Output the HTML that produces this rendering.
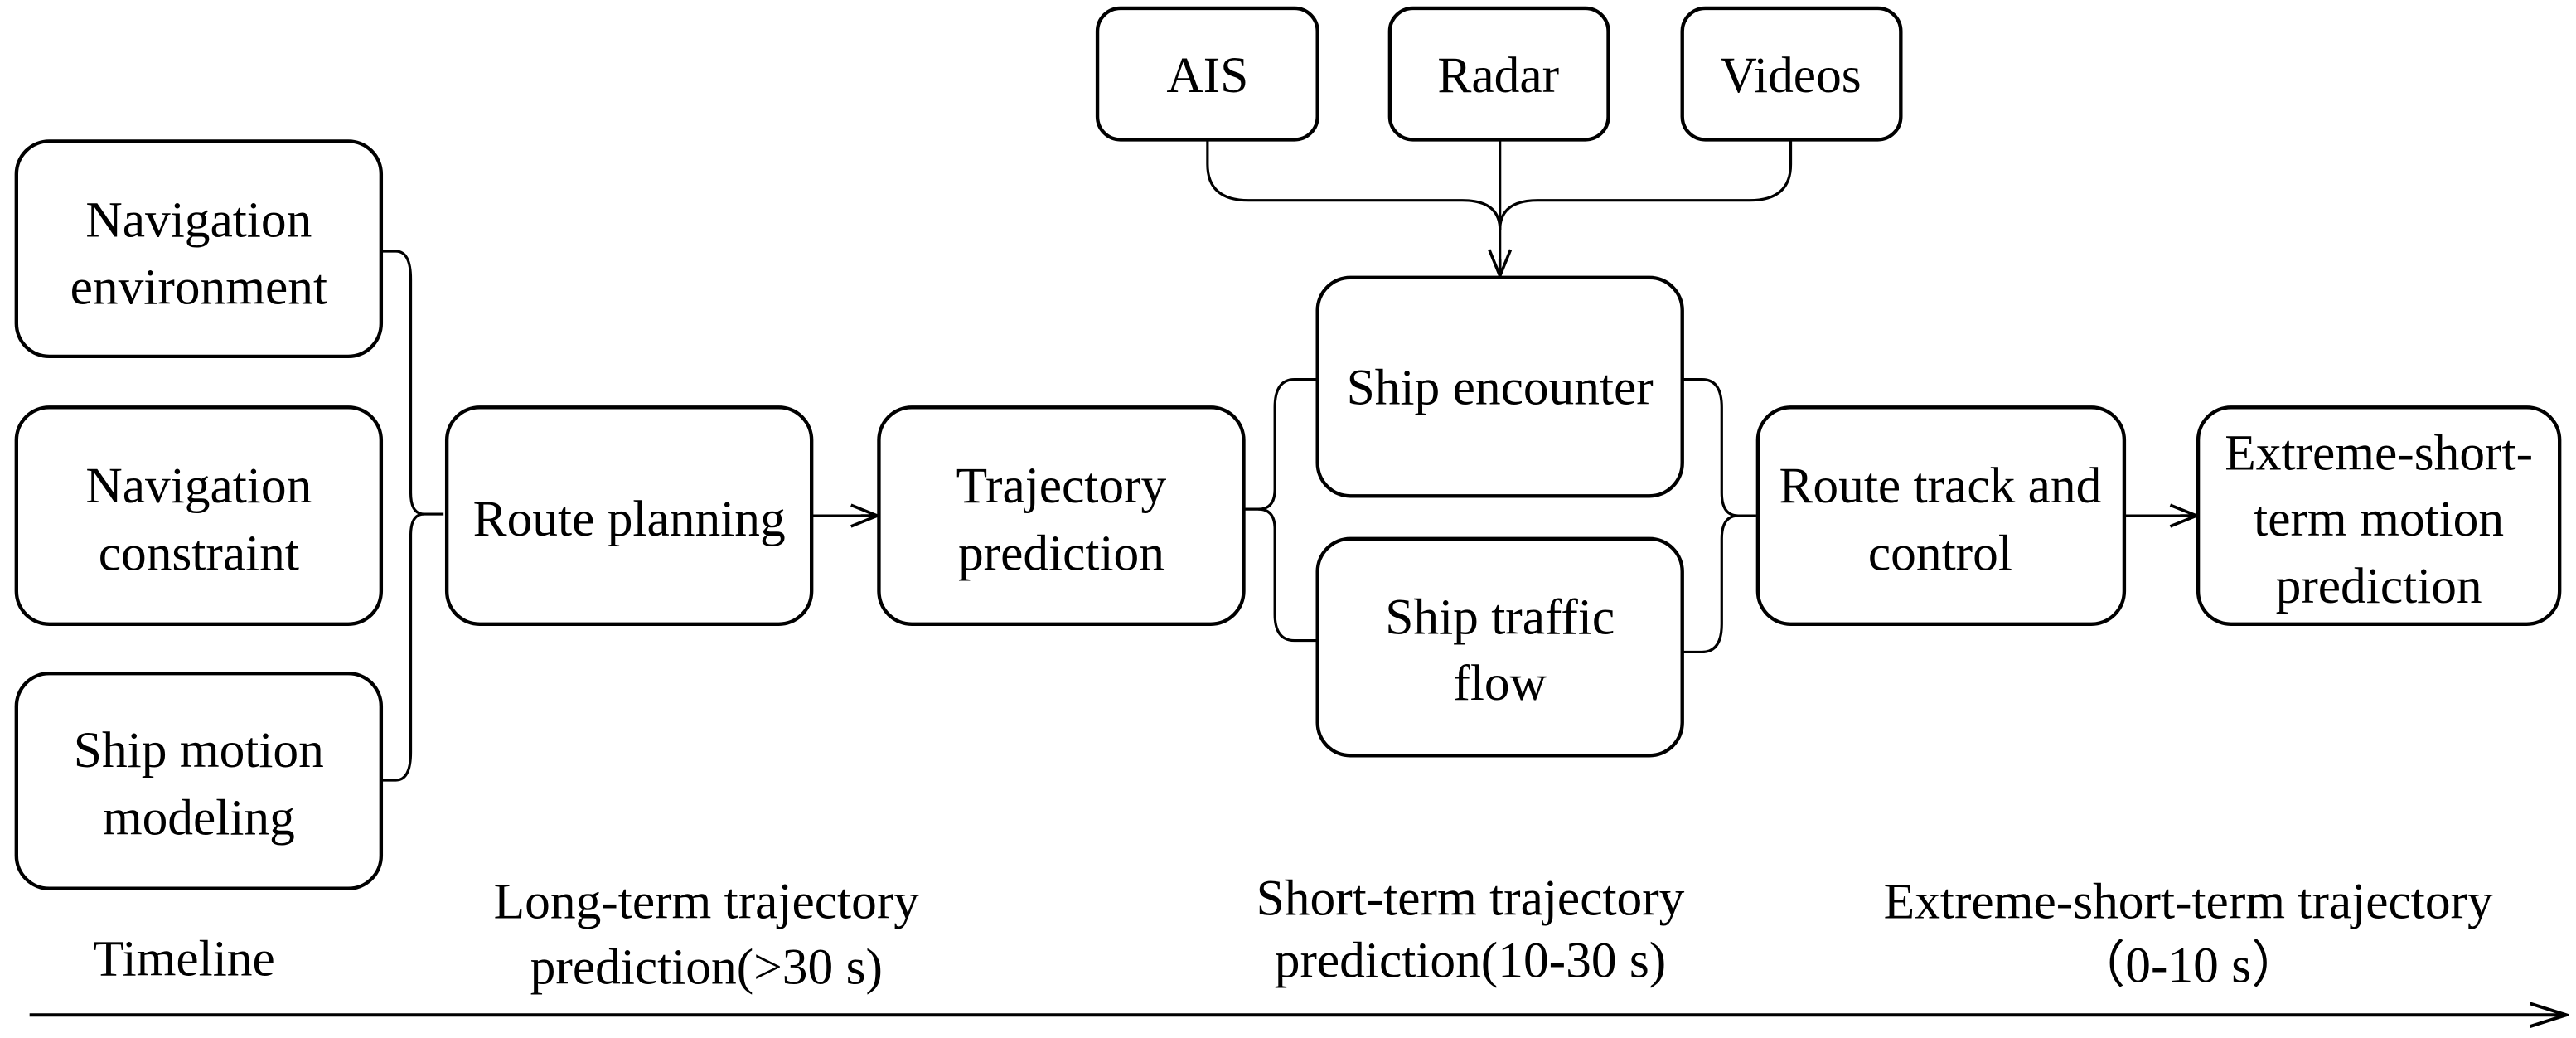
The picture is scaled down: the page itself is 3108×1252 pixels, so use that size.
<!DOCTYPE html>
<html><head><meta charset="utf-8"><style>
html,body{margin:0;padding:0;background:#fff;}
svg{display:block;}
text{font-family:"Liberation Serif",serif;font-size:31px;fill:#000;text-anchor:middle;}
</style></head><body>
<svg width="3108" height="1252" viewBox="0 0 1568 632" preserveAspectRatio="none" xmlns="http://www.w3.org/2000/svg">
<defs>
<marker id="oa" markerWidth="20" markerHeight="16" refX="18" refY="8" orient="auto" markerUnits="userSpaceOnUse">
<path d="M2,1.5 L18,8 L2,14.5 M8,8 L18,8" fill="none" stroke="#000" stroke-width="1.8"/>
</marker>
<marker id="ob" markerWidth="26" markerHeight="18" refX="24" refY="9" orient="auto" markerUnits="userSpaceOnUse">
<path d="M2,2 L24,9 L2,16" fill="none" stroke="#000" stroke-width="2"/>
</marker>
</defs>
<g fill="#fff" stroke="#000" stroke-width="2.2">
<rect x="10" y="86" width="222" height="131" rx="20"/>
<rect x="10" y="248" width="222" height="132" rx="20"/>
<rect x="10" y="410" width="222" height="131" rx="20"/>
<rect x="272" y="248" width="222" height="132" rx="20"/>
<rect x="535" y="248" width="222" height="132" rx="20"/>
<rect x="802" y="169" width="222" height="133" rx="20"/>
<rect x="802" y="328" width="222" height="132" rx="20"/>
<rect x="1070" y="248" width="223" height="132" rx="20"/>
<rect x="1338" y="248" width="220" height="132" rx="20"/>
<rect x="668" y="5" width="134" height="80" rx="14"/>
<rect x="846" y="5" width="133" height="80" rx="14"/>
<rect x="1024" y="5" width="133" height="80" rx="14"/>
</g>
<g fill="none" stroke="#000" stroke-width="1.6">
<path d="M232,153 H241 Q250,153 250,170 V300 Q250,313 258,313 H270"/>
<path d="M232,475 H241 Q250,475 250,458 V326 Q250,313 258,313"/>
<path d="M757,310 H766 Q776,310 776,298 V248 Q776,231 788,231 H802"/>
<path d="M766,310 Q776,310 776,322 V374 Q776,390 788,390 H802"/>
<path d="M1024,231 H1036 Q1048,231 1048,248 V300 Q1048,314 1058,314 H1069"/>
<path d="M1024,397 H1036 Q1048,397 1048,380 V328 Q1048,314 1058,314"/>
<path d="M735,85 V100 Q735,122 760,122 H890 Q913,122 913,140"/>
<path d="M1090,85 V100 Q1090,122 1065,122 H936 Q913,122 913,140"/>
<path d="M913,85 V168" marker-end="url(#oa)"/>
<path d="M494,314 H534" marker-end="url(#oa)"/>
<path d="M1293,314 H1337" marker-end="url(#oa)"/>
<path d="M18,618 H1562" stroke-width="2" marker-end="url(#ob)"/>
</g>
<text x="121" y="144">Navigation</text>
<text x="121" y="185">environment</text>
<text x="121" y="306">Navigation</text>
<text x="121" y="347">constraint</text>
<text x="121" y="467">Ship motion</text>
<text x="121" y="508">modeling</text>
<text x="383" y="326">Route planning</text>
<text x="646" y="306">Trajectory</text>
<text x="646" y="347">prediction</text>
<text x="913" y="246">Ship encounter</text>
<text x="913" y="386">Ship traffic</text>
<text x="913" y="426">flow</text>
<text x="1181" y="306">Route track and</text>
<text x="1181" y="347">control</text>
<text x="1448" y="286">Extreme-short-</text>
<text x="1448" y="326">term motion</text>
<text x="1448" y="367">prediction</text>
<text x="735" y="56">AIS</text>
<text x="912" y="56">Radar</text>
<text x="1090" y="56">Videos</text>
<text x="112" y="594">Timeline</text>
<text x="430" y="559">Long-term trajectory</text>
<text x="430" y="599">prediction(&gt;30 s)</text>
<text x="895" y="557">Short-term trajectory</text>
<text x="895" y="595">prediction(10-30 s)</text>
<text x="1332" y="559">Extreme-short-term trajectory</text>
<text x="1332" y="598">（0-10 s）</text>
</svg>
</body></html>
